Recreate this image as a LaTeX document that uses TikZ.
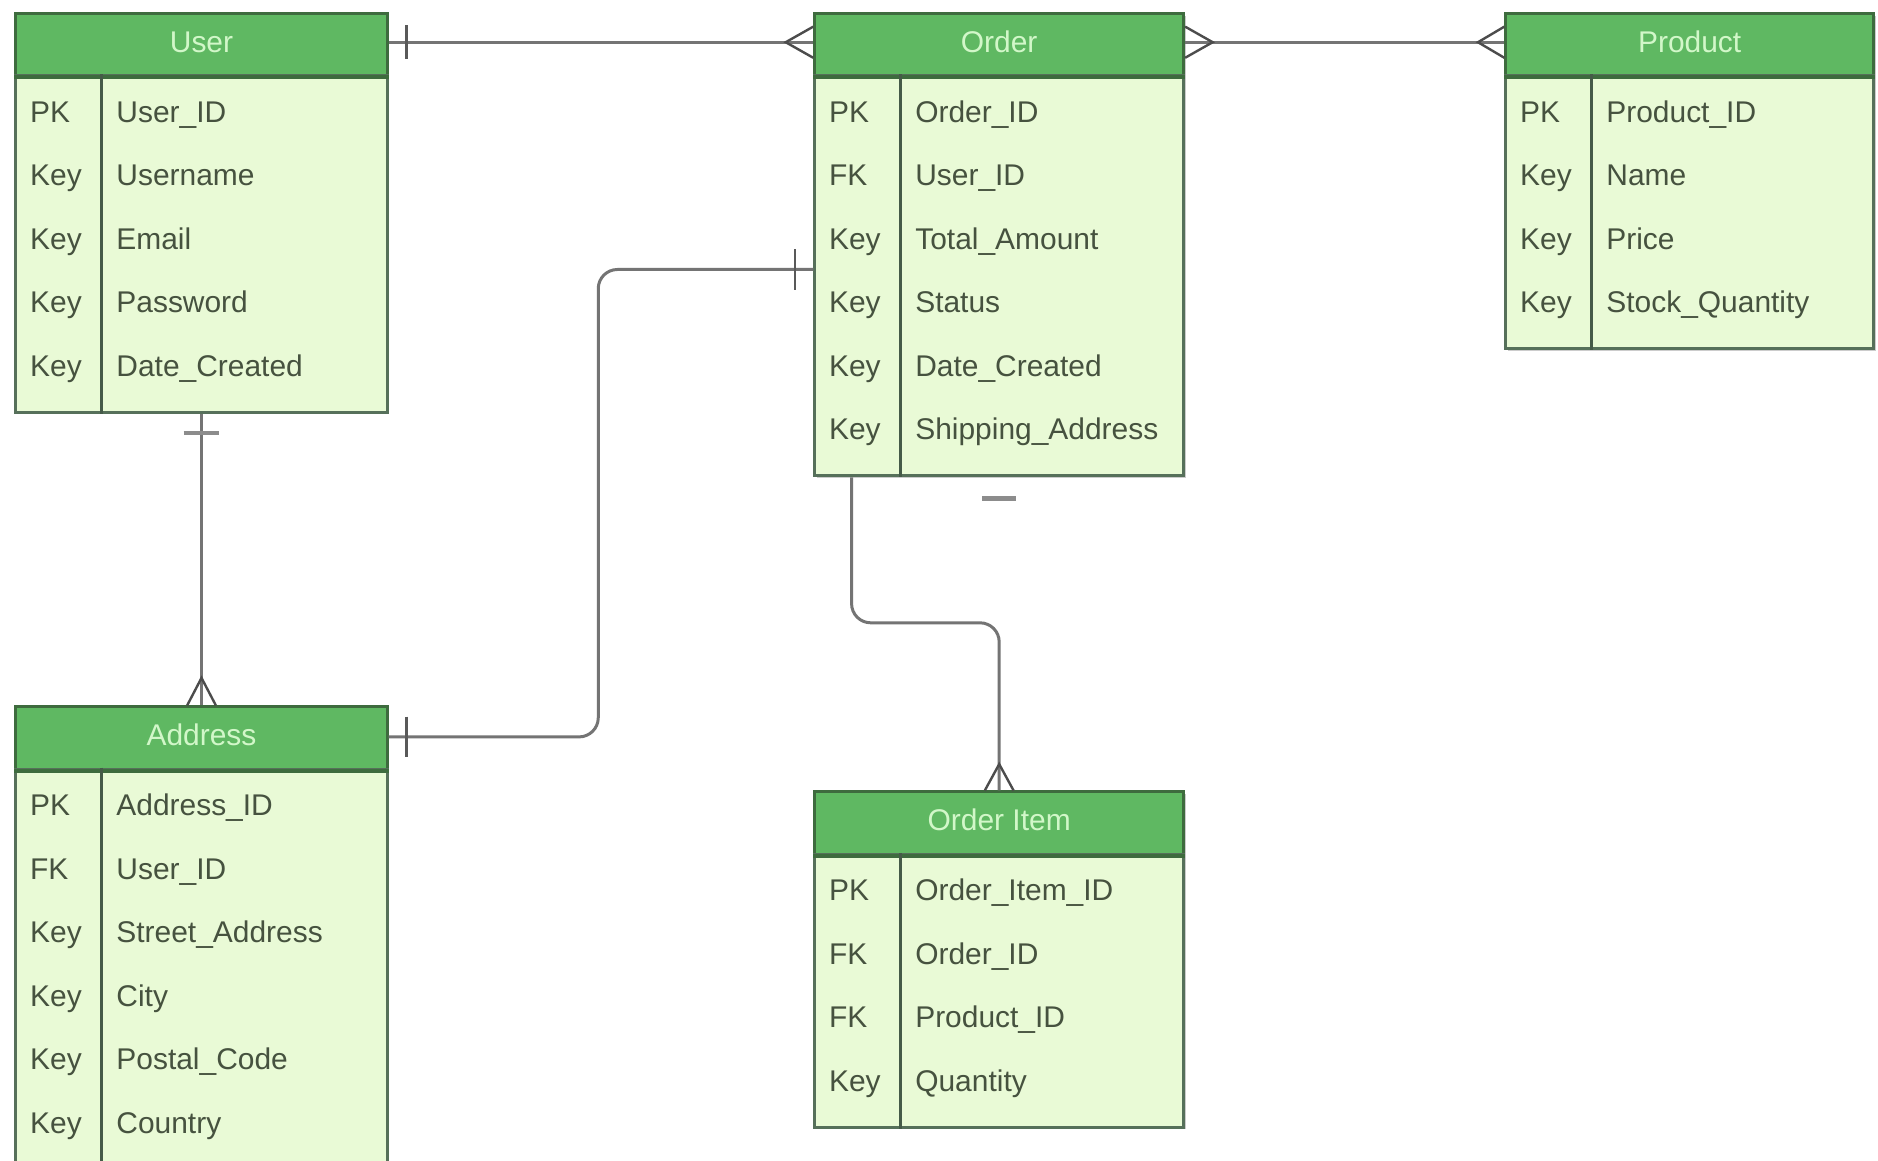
\documentclass[tikz,border=0pt]{standalone}
\usepackage{fontspec}
\setmainfont{Liberation Sans}
\usetikzlibrary{calc}
\definecolor{hdrfill}{HTML}{5FB862}
\definecolor{hdrline}{HTML}{3E6B3E}
\definecolor{bodyfill}{HTML}{E9FAD6}
\definecolor{bodyline}{HTML}{56705A}
\definecolor{txt}{HTML}{46523F}
\definecolor{hdrtxt}{HTML}{D2F7C9}
\definecolor{conncol}{HTML}{747474}
\tikzset{
 hdr/.style={draw=hdrline, fill=hdrfill, line width=2.5pt, inner sep=0pt, text=hdrtxt,
   font=\fontsize{25}{30}\selectfont, minimum height=52pt, text height=18pt, text depth=5pt, anchor=north west},
 bodybox/.style={draw=bodyline, fill=bodyfill, line width=2.5pt, inner sep=0pt, anchor=north west},
 keytxt/.style={text=txt, font=\fontsize{25}{30}\selectfont, anchor=base west, inner sep=0pt},
 conn/.style={draw=conncol, line width=2.5pt},
 crow/.style={draw=black!70, line width=2pt},
 barmark/.style={draw=black!65, line width=2pt},
 graybar/.style={draw=black!45, line width=4pt},
}
% name, left, top, width, nrows, title, rows
\newcommand{\ertable}[7]{%
 \pgfmathsetmacro{\ertbh}{#5*53+16}%
 \fill[black!20] (#2+3,#3+3) rectangle (#2+#4+3,#3+52+\ertbh+3);
 \node[hdr, minimum width=#4pt] (#1h) at (#2,#3) {#6};
 \node[bodybox, minimum width=#4pt, minimum height=\ertbh pt] (#1) at (#2,#3+52) {};
 \draw[draw=hdrline, line width=3pt] (#1h.south west) -- (#1h.south east);
 \draw[draw=bodyline!80!black, line width=2.5pt] ($(#1.north west)+(73,0)$) -- ($(#1.south west)+(73,0)$);
 \foreach \k/\f [count=\i] in {#7} {
   \node[keytxt] (#1-k\i) at (#2+13, #3+52+31+53*\i-53+9) {\k};
   \node[keytxt] (#1-f\i) at (#2+85, #3+52+31+53*\i-53+9) {\f};
 }
}
\begin{document}
\begin{tikzpicture}[x=1pt, y=-1pt]
\useasboundingbox (0,0) rectangle (1568,969);
\clip (0,0) rectangle (1568,969);
\fill[white] (0,0) rectangle (1568,969);

\ertable{user}{12}{10}{310}{5}{User}{PK/User\_ID, Key/Username, Key/Email, Key/Password, Key/Date\_Created}
\ertable{order}{679}{10}{308}{6}{Order}{PK/Order\_ID, FK/User\_ID, Key/Total\_Amount, Key/Status, Key/Date\_Created, Key/Shipping\_Address}
\ertable{product}{1256}{10}{307}{4}{Product}{PK/Product\_ID, Key/Name, Key/Price, Key/Stock\_Quantity}
\ertable{addr}{12}{589}{310}{6}{Address}{PK/Address\_ID, FK/User\_ID, Key/Street\_Address, Key/City, Key/Postal\_Code, Key/Country}
\ertable{oi}{679}{660}{308}{4}{Order Item}{PK/Order\_Item\_ID, FK/Order\_ID, FK/Product\_ID, Key/Quantity}

% User -- Order
\draw[conn] ($(userh.east)+(0,-2)$) -- ($(orderh.west)+(0,-2)$);
\draw[barmark] ($(userh.east)+(15,-16)$) -- ++(0,28);
\draw[crow] ($(orderh.west)+(0,-15)$) -- ++(-23,13) -- ++(23,13);

% Order -- Product
\draw[conn] ($(orderh.east)+(0,-2)$) -- ($(producth.west)+(0,-2)$);
\draw[crow] ($(orderh.east)+(0,-15)$) -- ++(23,13) -- ++(-23,13);
\draw[crow] ($(producth.west)+(0,-15)$) -- ++(-22,13) -- ++(22,13);

% User -- Address
\draw[conn] (user.south) -- (addrh.north);
\draw[graybar] ($(user.south)+(-15,16)$) -- ++(30,0);
\draw[crow] ($(addrh.north)+(-12,0)$) -- ++(12,-23) -- ++(12,23);

% Address -- Order
\draw[conn, rounded corners=16pt] ($(addrh.east)+(0,-1)$) -- ++(175,0) |- ($(order.north west)+(0,163)$);
\draw[barmark] ($(addrh.east)+(15,-18)$) -- ++(0,34);
\draw[barmark] ($(order.north west)+(-15,146)$) -- ++(0,34);

% Order -- Order Item
\draw[conn, rounded corners=16pt] ($(order.south west)+(32,0)$) |- ($(oih.north)+(0,-140)$) -- (oih.north);
\draw[graybar] ($(order.south)+(-14,18)$) -- ++(28,0);
\draw[crow] ($(oih.north)+(-12,0)$) -- ++(12,-22) -- ++(12,22);
\end{tikzpicture}
\end{document}
